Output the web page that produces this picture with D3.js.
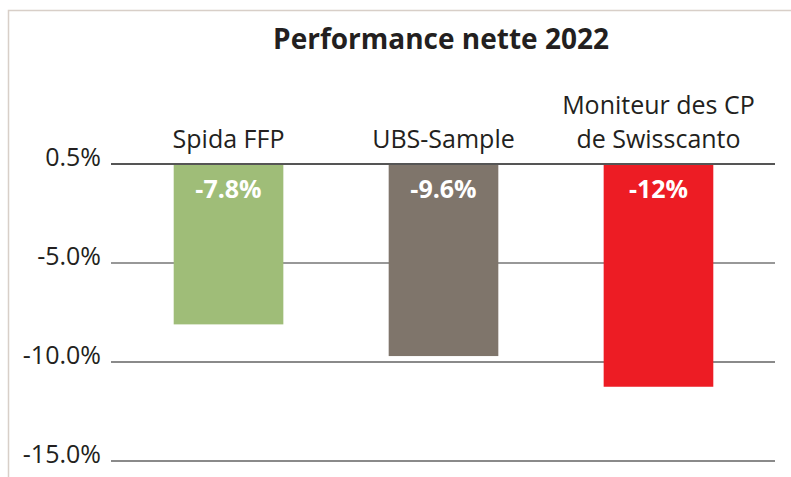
<!DOCTYPE html>
<html>
<head>
<meta charset="utf-8">
<script src="https://cdn.jsdelivr.net/npm/d3@7"></script>
<style>
  body { margin: 0; background: #fff; }
  text { font-family: "Open Sans", "Noto Sans", sans-serif; }
</style>
</head>
<body>
<div id="chart"></div>
<script>
chart_width = 791;
chart_height = 477;

// data
categories = ['Spida FFP', 'UBS-Sample', 'Moniteur des CP|de Swisscanto'];
bar_values = [-8.1, -9.7, -11.25];
value_labels = ['-7.8%', '-9.6%', '-12%'];
bar_colors = ['#9fbd78', '#7f756b', '#ed1c24'];
tick_values = [0, -5, -10, -15];
tick_labels = ['0.5%', '-5.0%', '-10.0%', '-15.0%'];
title = 'Performance nette 2022';

svg = d3.select('#chart')
	.append('svg')
	.attr('width', chart_width)
	.attr('height', chart_height);

// frame (top + left edges)
svg.append('path')
	.attr('d', 'M8.5,' + chart_height + ' V10.5 H' + chart_width)
	.attr('fill', 'none')
	.attr('stroke', '#d8cfc8')
	.attr('stroke-width', 1.5);

y_scale = d3.scaleLinear()
	.domain([0, -15])
	.range([164, 461]);

x_scale = d3.scaleBand()
	.domain(categories)
	.range([112, 775])
	.paddingInner(0.49)
	.paddingOuter(0.287);

// gridlines
grid_styles = {
	'0': { color: '#555', width: 2 },
	'-5': { color: '#333', width: 1.2 },
	'-10': { color: '#8a8a8a', width: 2 },
	'-15': { color: '#8a8a8a', width: 2 }
};

svg.selectAll('line.grid')
	.data(tick_values)
	.enter()
	.append('line')
	.attr('class', 'grid')
	.attr('x1', 111)
	.attr('x2', 775)
	.attr('y1', (d) => y_scale(d))
	.attr('y2', (d) => y_scale(d))
	.attr('stroke', (d) => grid_styles[d].color)
	.attr('stroke-width', (d) => grid_styles[d].width);

// y axis labels
y_axis = d3.axisLeft(y_scale)
	.tickValues(tick_values)
	.tickFormat((d, i) => tick_labels[i])
	.tickSize(0)
	.tickPadding(0);

svg.append('g')
	.attr('transform', 'translate(101,0)')
	.call(y_axis)
	.call((g) => g.select('.domain').remove())
	.selectAll('text')
	.attr('font-size', 25)
	.attr('fill', '#231f20')
	.attr('dy', '0.05em')
	.style('font-family', '"Open Sans", sans-serif');

// bars
svg.selectAll('rect.bar')
	.data(bar_values)
	.enter()
	.append('rect')
	.attr('class', 'bar')
	.attr('x', (d, i) => x_scale(categories[i]))
	.attr('y', y_scale(0) + 1)
	.attr('width', x_scale.bandwidth())
	.attr('height', (d) => y_scale(d) - y_scale(0) - 1)
	.attr('fill', (d, i) => bar_colors[i]);

// value labels
svg.selectAll('text.value')
	.data(value_labels)
	.enter()
	.append('text')
	.attr('class', 'value')
	.attr('x', (d, i) => x_scale(categories[i]) + x_scale.bandwidth() / 2)
	.attr('y', 198)
	.attr('text-anchor', 'middle')
	.attr('font-size', 25)
	.attr('font-weight', 'bold')
	.attr('fill', '#fff')
	.text((d) => d);

// category labels, one text per line (split on '|')
cat_lines = [];
categories.forEach(function(c) {
	parts = c.split('|');
	parts.forEach(function(p, li) {
		cat_lines.push({ cat: c, text: p, row: parts.length - 1 - li });
	});
});

svg.selectAll('text.cat')
	.data(cat_lines)
	.enter()
	.append('text')
	.attr('class', 'cat')
	.attr('x', (d) => x_scale(d.cat) + x_scale.bandwidth() / 2)
	.attr('y', (d) => 148 - d.row * 34)
	.attr('text-anchor', 'middle')
	.attr('font-size', 25)
	.attr('fill', '#231f20')
	.text((d) => d.text);

// title
svg.append('text')
	.attr('x', 441)
	.attr('y', 49)
	.attr('text-anchor', 'middle')
	.attr('font-size', 28)
	.attr('font-weight', 'bold')
	.attr('fill', '#231f20')
	.text(title);
</script>
</body>
</html>
